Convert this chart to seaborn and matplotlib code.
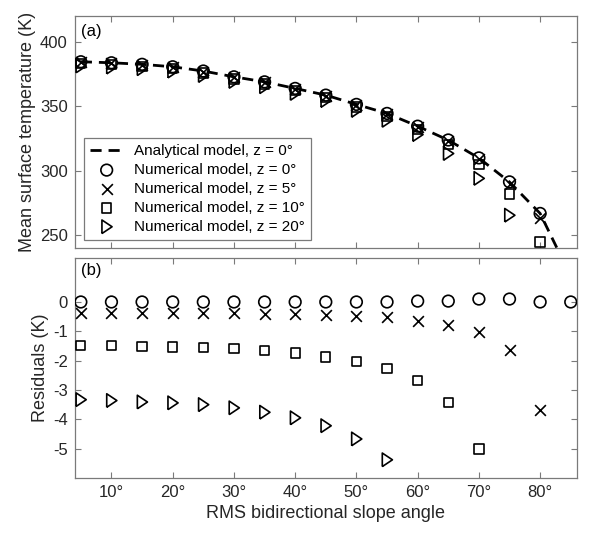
import numpy as np
import pandas as pd
import seaborn as sns
import matplotlib.pyplot as plt

# slope angles (deg)
slope = [5, 10, 15, 20, 25, 30, 35, 40, 45, 50, 55, 60, 65, 70, 75, 80, 85]

# (a) mean surface temperature (K)
analytical_z0 = [384.5, 383.7, 382.5, 380.6, 377.3, 372.8, 368.9, 363.8, 358.6,
                 351.4, 344.4, 334.5, 323.7, 309.8, 291.2, 266.8, 218.0]
numerical_z0 = [384.5, 383.7, 382.5, 380.6, 377.3, 372.8, 368.9, 363.8, 358.6,
                351.4, 344.4, 334.5, 323.8, 309.9, 291.3, 266.8, 218.0]
numerical_z5 = [384.1, 383.3, 382.1, 380.2, 376.9, 372.4, 368.5, 363.4, 358.2,
                350.9, 343.9, 333.9, 322.9, 308.8, 289.6, 263.1]
numerical_z10 = [383.0, 382.2, 381.0, 379.1, 375.8, 371.2, 367.2, 362.1, 356.7,
                 349.4, 342.1, 331.8, 320.3, 304.8, 282.0, 244.7]
numerical_z20 = [381.2, 380.3, 379.1, 377.2, 373.8, 369.2, 365.1, 359.9, 354.4,
                 346.7, 339.0, 328.0, 313.3, 294.0, 265.4]

# (b) residuals (K)
resid_z0 = [0.0, 0.0, 0.0, 0.0, 0.0, 0.0, 0.0, 0.0, 0.0,
            0.0, 0.0, 0.03, 0.03, 0.1, 0.1, 0.0, 0.0]
resid_z5 = [-0.38, -0.38, -0.38, -0.38, -0.38, -0.38, -0.41, -0.41, -0.43,
            -0.49, -0.52, -0.64, -0.77, -1.02, -1.63, -3.67]
resid_z10 = [-1.49, -1.49, -1.51, -1.53, -1.55, -1.59, -1.66, -1.74, -1.88,
             -2.02, -2.27, -2.68, -3.42, -5.01]
resid_z20 = [-3.33, -3.36, -3.41, -3.44, -3.50, -3.61, -3.76, -3.95, -4.22,
             -4.67, -5.38]

labels = ["Analytical model, z = 0°", "Numerical model, z = 0°",
          "Numerical model, z = 5°", "Numerical model, z = 10°",
          "Numerical model, z = 20°"]

sns.set_theme(style="ticks")
plt.rcParams["font.family"] = ["Liberation Sans", "DejaVu Sans"]
plt.rcParams["axes.unicode_minus"] = False

GRAY = "#7a7a7a"
TXT = "#262626"
# narrower right-pointing triangle like the matlab one
tri = [(-0.7, -1.0), (-0.7, 1.0), (0.8, 0.0), (-0.7, -1.0)]

fig = plt.figure(figsize=(6.05, 5.33), dpi=100)
ax1 = fig.add_axes([0.1235, 0.5347, 0.830, 0.4353])
ax2 = fig.add_axes([0.1235, 0.1032, 0.830, 0.4128])


def draw_points(ax, ys, label=None):
    # circles, crosses, squares, triangles
    kw = dict(ax=ax, edgecolor="black", linewidth=1.2, zorder=3)
    sets = [("o", 70, ys[0]), ("x", 60, ys[1]), ("s", 45, ys[2]), (tri, 95, ys[3])]
    for i, (m, s, y) in enumerate(sets):
        x = slope[:len(y)]
        lab = labels[i + 1] if label else None
        if m == "x":
            sns.scatterplot(x=x, y=y, marker=m, s=s, color="black", ax=ax,
                            linewidth=1.2, zorder=3, label=lab)
        else:
            sns.scatterplot(x=x, y=y, marker=m, s=s, facecolor="none",
                            label=lab, **kw)


# (a)
sns.lineplot(x=slope, y=analytical_z0, ax=ax1, color="black", linewidth=2,
             label=labels[0], zorder=4)
ax1.lines[0].set_dashes((4, 2.5))
draw_points(ax1, [numerical_z0, numerical_z5, numerical_z10, numerical_z20], label=True)
ax1.set_ylim(240, 420)
ax1.set_yticks([250, 300, 350, 400])
ax1.set_ylabel("Mean surface temperature (K)", fontsize=13, color=TXT, labelpad=3)
ax1.text(0.012, 0.965, "(a)", transform=ax1.transAxes, ha="left", va="top",
         fontsize=12, color="black")
leg = ax1.legend(loc="lower left", bbox_to_anchor=(0.018, 0.035), fontsize=11,
                 frameon=True, fancybox=False, framealpha=1, edgecolor=GRAY,
                 handlelength=2.2, handletextpad=0.7, labelspacing=0.32,
                 borderpad=0.4, borderaxespad=0)
leg.get_frame().set_linewidth(0.9)
for t in leg.get_texts():
    t.set_color("black")

# (b)
draw_points(ax2, [resid_z0, resid_z5, resid_z10, resid_z20])
ax2.set_ylim(-6, 1.5)
ax2.set_yticks([0, -1, -2, -3, -4, -5])
ax2.set_ylabel("Residuals (K)", fontsize=13, color=TXT, labelpad=3)
ax2.text(0.012, 0.975, "(b)", transform=ax2.transAxes, ha="left", va="top",
         fontsize=12, color="black")
ax2.set_xlabel("RMS bidirectional slope angle", fontsize=13, color=TXT, labelpad=4)

ticks = [10, 20, 30, 40, 50, 60, 70, 80]
for ax in (ax1, ax2):
    ax.set_xlim(4, 86)
    ax.set_xticks(ticks)
    ax.tick_params(direction="in", top=True, right=True, length=4, width=0.8,
                   color=GRAY, labelsize=12, labelcolor=TXT, pad=5)
    for sp in ax.spines.values():
        sp.set_visible(True)
        sp.set_color(GRAY)
        sp.set_linewidth(0.9)
ax1.set_xticklabels([])
ax2.set_xticklabels([f"{t}°" for t in ticks])
ax2.get_legend() and ax2.get_legend().remove()

fig.savefig("out.png", dpi=100)
